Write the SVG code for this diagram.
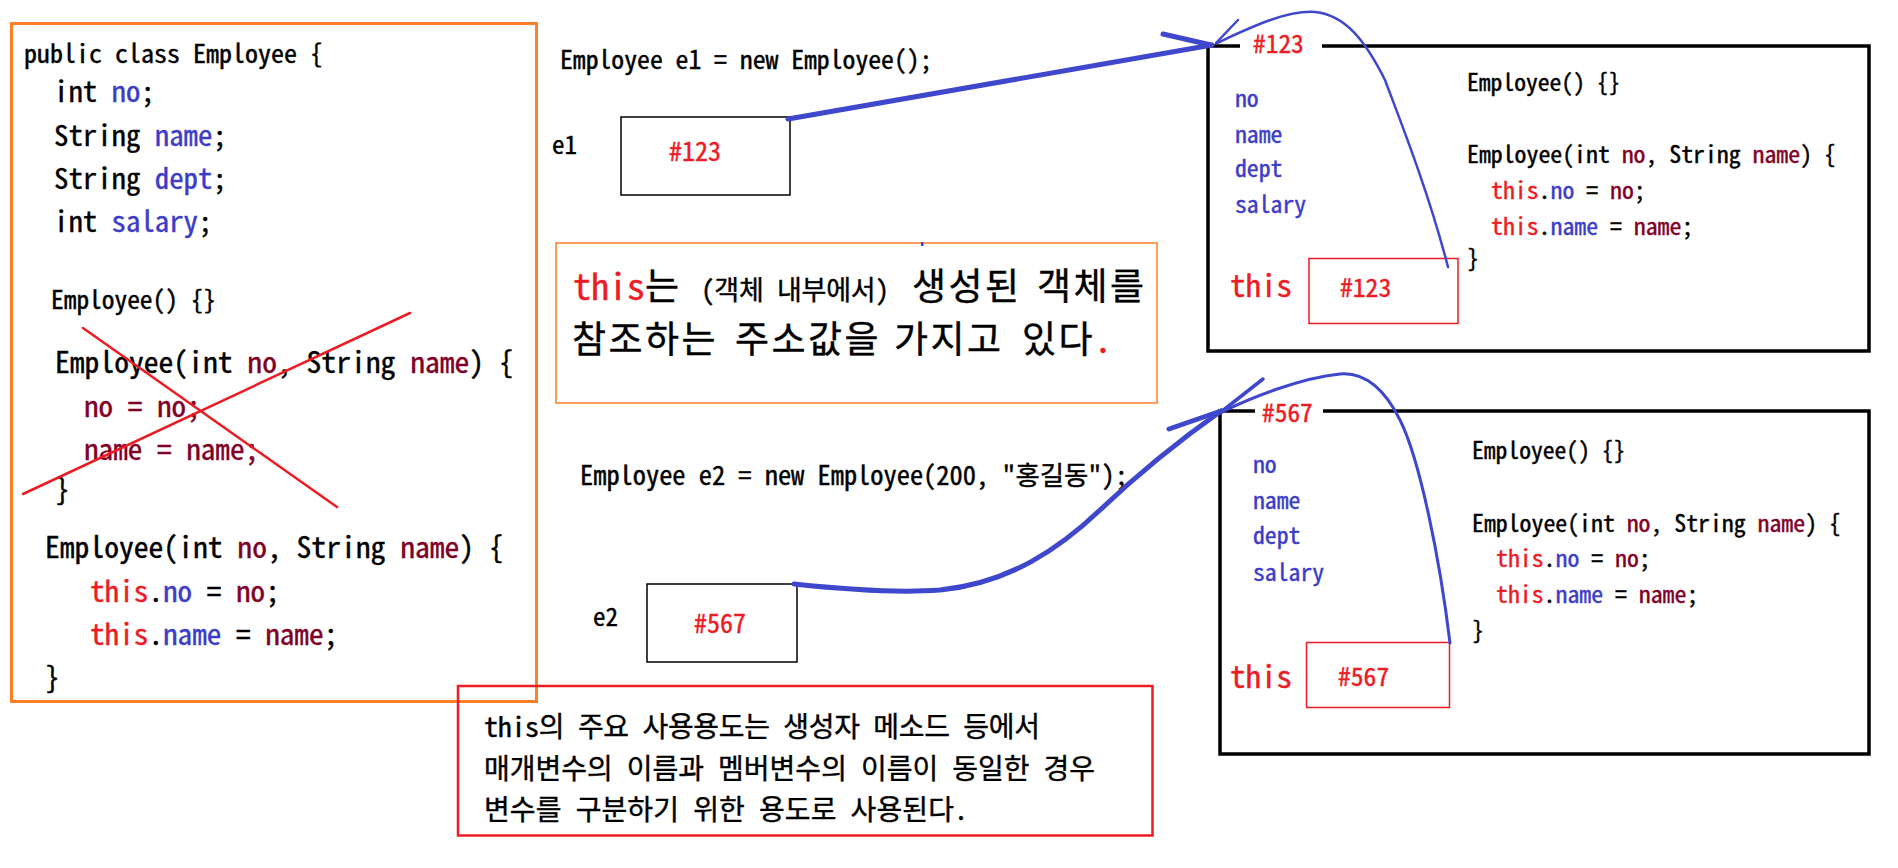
<svg xmlns="http://www.w3.org/2000/svg" width="1898" height="868" viewBox="0 0 1898 868">
<style>
.m{font-family:"Noto Sans Mono CJK KR","DejaVu Sans Mono",monospace;fill:#000;stroke:#000;stroke-width:0.4}
.k{font-family:"Noto Sans Mono CJK KR","Noto Sans CJK KR",sans-serif;fill:#000;stroke:#000;stroke-width:0.4}
.f{fill:#3c3cc8;stroke:#3c3cc8}
.p{fill:#800026;stroke:#800026}
.t{fill:#ed1c24;stroke:#ed1c24}
.h{letter-spacing:2.5px}
.ob{fill:none;stroke:#ff7f27}
.rb{fill:none;stroke:#ed1c24}
.bb{fill:none;stroke:#000;stroke-width:3.5}
.vb{fill:#fff;stroke:#000;stroke-width:1.5}
.ln{fill:none;stroke:#3f48cc;stroke-linecap:round;stroke-linejoin:round}
.x{stroke:#ed1c24;stroke-width:2.5;stroke-linecap:round}
</style>
<rect width="1898" height="868" fill="#fff"/>

<g id="class-code">
<rect x="11.5" y="23.5" width="525" height="678" class="ob" stroke-width="3"/>
<text class="m" font-size="26" x="24" y="63">public class Employee {</text>
<text class="m" font-size="28.8" x="54" y="102">int <tspan class="f">no</tspan>;</text>
<text class="m" font-size="28.8" x="54" y="146">String <tspan class="f">name</tspan>;</text>
<text class="m" font-size="28.8" x="54" y="189">String <tspan class="f">dept</tspan>;</text>
<text class="m" font-size="28.8" x="54" y="232">int <tspan class="f">salary</tspan>;</text>
<text class="m" font-size="25.4" x="51" y="309">Employee() {}</text>
<text class="m" font-size="29.6" x="55" y="373">Employee(int <tspan class="p">no</tspan>, String <tspan class="p">name</tspan>) {</text>
<text class="m p" font-size="29.2" x="84" y="417">no = no;</text>
<text class="m p" font-size="29.2" x="84" y="460">name = name;</text>
<text class="m" font-size="29.2" x="55" y="500">}</text>
<text class="m" font-size="29.6" x="45" y="558">Employee(int <tspan class="p">no</tspan>, String <tspan class="p">name</tspan>) {</text>
<text class="m" font-size="29.2" x="90" y="602"><tspan class="t">this</tspan>.<tspan class="f">no</tspan> = <tspan class="p">no</tspan>;</text>
<text class="m" font-size="29.2" x="90" y="645"><tspan class="t">this</tspan>.<tspan class="f">name</tspan> = <tspan class="p">name</tspan>;</text>
<text class="m" font-size="29.2" x="45" y="688">}</text>
</g>

<g id="cross-out">
<line class="x" x1="83" y1="328" x2="337" y2="507"/>
<line class="x" x1="23" y1="494" x2="410" y2="313"/>
</g>

<g id="e1-var">
<text class="m" font-size="25.7" x="560" y="69">Employee e1 = new Employee();</text>
<text class="m" font-size="25" x="552" y="154">e1</text>
<rect x="621" y="117" width="169" height="78" class="vb"/>
<text class="m t" font-size="26" x="669" y="161">#123</text>
</g>

<g id="e2-var">
<text class="m" font-size="26.4" x="580" y="485">Employee e2 = new Employee(200, "홍길동");</text>
<text class="m" font-size="25" x="593" y="626">e2</text>
<rect x="647" y="584" width="150" height="78" class="vb"/>
<text class="m t" font-size="26" x="694" y="633">#567</text>
</g>

<g id="note-this">
<rect x="556" y="243" width="601" height="160" class="ob" stroke-width="1.5"/>
<text class="k" font-size="37" y="300"><tspan class="t" font-size="36" x="573">this</tspan><tspan x="645">는</tspan><tspan font-size="27" x="701" textLength="188" lengthAdjust="spacing">(객체 내부에서)</tspan><tspan class="h" x="912">생성된</tspan><tspan class="h" x="1037">객체를</tspan></text>
<text class="k" font-size="37" y="353"><tspan class="h" x="572">참조하는</tspan><tspan class="h" x="735">주소값을</tspan><tspan class="h" x="894">가지고</tspan><tspan x="1022" class="h">있다</tspan><tspan class="t" font-size="36" x="1094">.</tspan></text>
</g>

<g id="note-usage">
<rect x="458" y="686" width="694.5" height="149.5" class="rb" stroke-width="2.5"/>
<text class="k" font-size="28" x="484" y="737" textLength="556" lengthAdjust="spacing">this의 주요 사용용도는 생성자 메소드 등에서</text>
<text class="k" font-size="28" x="484" y="779" textLength="611" lengthAdjust="spacing">매개변수의 이름과 멤버변수의 이름이 동일한 경우</text>
<text class="k" font-size="28" x="484" y="820" textLength="484" lengthAdjust="spacing">변수를 구분하기 위한 용도로 사용된다.</text>
</g>

<g id="object-123">
<path class="bb" d="M1240,46 H1208 V351 H1869 V46 H1322"/>
<text class="m t" font-size="25.4" x="1253" y="53">#123</text>
<text class="m f" font-size="23.7" x="1235" y="107">no</text>
<text class="m f" font-size="23.7" x="1235" y="143">name</text>
<text class="m f" font-size="23.7" x="1235" y="177">dept</text>
<text class="m f" font-size="23.7" x="1235" y="213">salary</text>
<text class="m t" font-size="31" x="1230" y="297">this</text>
<rect x="1309" y="258.5" width="149" height="65" class="rb" stroke-width="1.5"/>
<text class="m t" font-size="25.6" x="1340" y="297">#123</text>
<text class="m" font-size="23.6" x="1467" y="91">Employee() {}</text>
<text class="m" font-size="23.8" x="1467" y="163">Employee(int <tspan class="p">no</tspan>, String <tspan class="p">name</tspan>) {</text>
<text class="m" font-size="23.8" x="1491" y="199"><tspan class="t">this</tspan>.<tspan class="f">no</tspan> = <tspan class="p">no</tspan>;</text>
<text class="m" font-size="23.8" x="1491" y="235"><tspan class="t">this</tspan>.<tspan class="f">name</tspan> = <tspan class="p">name</tspan>;</text>
<text class="m" font-size="23.8" x="1467" y="267">}</text>
</g>

<g id="object-567">
<path class="bb" d="M1255,411 H1220 V754 H1869 V411 H1323"/>
<text class="m t" font-size="25.4" x="1262" y="422">#567</text>
<text class="m f" font-size="23.7" x="1253" y="473">no</text>
<text class="m f" font-size="23.7" x="1253" y="509">name</text>
<text class="m f" font-size="23.7" x="1253" y="544">dept</text>
<text class="m f" font-size="23.7" x="1253" y="581">salary</text>
<text class="m t" font-size="31" x="1230" y="688">this</text>
<rect x="1306.5" y="642.5" width="143" height="65" class="rb" stroke-width="1.5"/>
<text class="m t" font-size="25.6" x="1338" y="686">#567</text>
<text class="m" font-size="23.6" x="1472" y="459">Employee() {}</text>
<text class="m" font-size="23.8" x="1472" y="532">Employee(int <tspan class="p">no</tspan>, String <tspan class="p">name</tspan>) {</text>
<text class="m" font-size="23.8" x="1496" y="567"><tspan class="t">this</tspan>.<tspan class="f">no</tspan> = <tspan class="p">no</tspan>;</text>
<text class="m" font-size="23.8" x="1496" y="603"><tspan class="t">this</tspan>.<tspan class="f">name</tspan> = <tspan class="p">name</tspan>;</text>
<text class="m" font-size="23.8" x="1472" y="639">}</text>
</g>

<g id="connectors">
<path class="ln" stroke-width="5" d="M788,119 L1212,45"/>
<path class="ln" stroke-width="5" d="M1163,34 L1211,45"/>
<path class="ln" stroke-width="2.5" d="M1238,20 L1216,43"/>
<path class="ln" stroke-width="2.5" d="M1448,267 C1428,190 1400,120 1385,80 C1365,40 1345,15 1315,12 C1285,10 1245,30 1217,43"/>
<path class="ln" stroke-width="5" d="M794,584 C850,590 900,593 940,590 C1010,583 1060,548 1100,510 C1140,472 1180,440 1221,411"/>
<path class="ln" stroke-width="5" d="M1169,429 L1221,411"/>
<path class="ln" stroke-width="3.5" d="M1263,379 L1221,412"/>
<path class="ln" stroke-width="3" d="M1450,643 C1440,560 1420,460 1400,420 C1385,390 1365,372 1340,374 C1300,378 1250,398 1222,412"/>
<rect x="921" y="242" width="2.5" height="4" fill="#3f48cc"/>
</g>
</svg>
